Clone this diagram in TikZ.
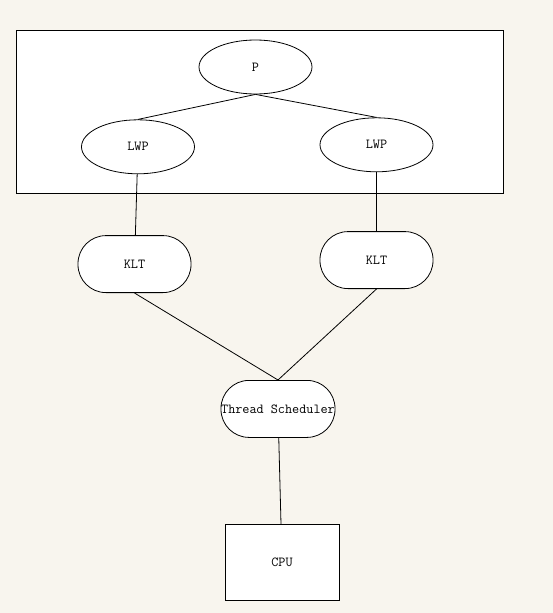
\documentclass[tikz,border=0pt]{standalone}
\usepackage{tikz}
\usetikzlibrary{shapes, positioning, calc, backgrounds}
\definecolor{pagebg}{HTML}{F8F5EE}

\begin{document}
\begin{tikzpicture}[
    every node/.style={font=\ttfamily\fontsize{13.8}{15}\selectfont},
    line_style/.style={line width=0.8pt},
    ell_node/.style={ellipse, draw, line_style, fill=white, inner sep=0pt, minimum width=113pt, minimum height=54pt},
    pill_node/.style={rectangle, draw, line_style, fill=white, rounded corners=28pt, inner sep=0pt, minimum width=113pt, minimum height=57pt},
    box_node/.style={rectangle, draw, line_style, fill=white, inner sep=0pt, minimum width=114pt, minimum height=76pt},
    ]
    % Nodes
    \node[ell_node] (p) {P};
    \node[ell_node] (lwpl) [below=25pt of p, xshift=-117.5pt] {LWP};
    \node[ell_node] (lwpr) [below=23pt of p, xshift=121pt] {LWP};
    \node[pill_node] (kltl) [below=61pt of lwpl, xshift=-3.5pt] {KLT};
    \node[pill_node] (kltr) [below=59pt of lwpr] {KLT};
    \node[pill_node, minimum width=114pt] (sched) [below=87pt of kltl, xshift=143.5pt] {Thread Scheduler};
    \node[box_node] (cpu) [below=86pt of sched, xshift=4pt] {CPU};

    % Page and process box
    \begin{scope}[on background layer]
        \path[use as bounding box, fill=pagebg] (-255.5pt,67pt) rectangle (297.5pt,-546pt);
        \draw[line_style, fill=white] ($(lwpl.west |- p.north)+(-65pt,9pt)$) rectangle ($(lwpr.east |- lwpl.south)+(70pt,-19pt)$);
    \end{scope}

    % Lines
    \draw[line_style] (p.south) -- (lwpl.north); \draw[line_style] (p.south) -- (lwpr.north);
    \draw[line_style] (lwpl) -- (kltl); \draw[line_style] (lwpr) -- (kltr);
    \draw[line_style] (kltl.south) -- (sched.north); \draw[line_style] (kltr.south) -- (sched.north);
    \draw[line_style] (sched) -- (cpu);
\end{tikzpicture}
\end{document}
